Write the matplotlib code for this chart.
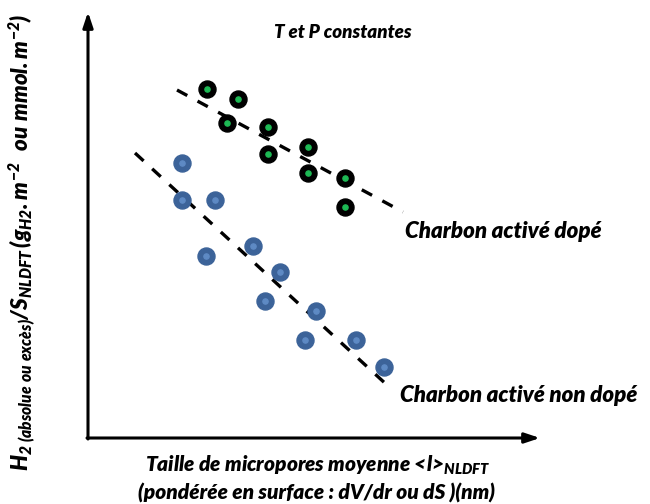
import matplotlib.pyplot as plt

plt.rcParams["font.family"] = ["Lato", "DejaVu Sans"]
plt.rcParams["mathtext.fontset"] = "custom"
plt.rcParams["mathtext.rm"] = "Lato:italic:heavy"
plt.rcParams["mathtext.it"] = "Lato:italic:heavy"
plt.rcParams["mathtext.bf"] = "Lato:italic:heavy"

# schematic coordinates (x to the right, y downward)
dope_x = [207, 238, 227, 268, 268, 308, 308, 345, 345]
dope_y = [89, 99, 123, 127, 154, 147, 173, 178, 207]

nondope_x = [182, 182, 215, 206, 253, 280, 265, 316, 305, 356, 384]
nondope_y = [163, 200, 200, 256, 246, 272, 301, 311, 340, 340, 367]

trend_dope = ([177, 403], [90, 212])
trend_nondope = ([135, 387], [153, 385])

fig = plt.figure(figsize=(6.5, 5.04), dpi=100)
ax = fig.add_axes([0, 0, 1, 1])
ax.set_xlim(0, 650)
ax.set_ylim(504, 0)
ax.axis("off")

# axes arrows
ax.annotate("", xy=(88, 12), xytext=(88, 439),
            arrowprops=dict(arrowstyle="-|>,head_length=0.9,head_width=0.3",
                            color="black", lw=2.2, shrinkA=0, shrinkB=0))
ax.annotate("", xy=(540, 438), xytext=(87, 438),
            arrowprops=dict(arrowstyle="-|>,head_length=0.9,head_width=0.3",
                            color="black", lw=2.2, shrinkA=0, shrinkB=0))

# dashed trends
ax.plot(*trend_dope, color="black", lw=2.4, ls=(0, (3.5, 3.5)))
ax.plot(*trend_nondope, color="black", lw=2.4, ls=(0, (3.5, 3.5)))

# doped carbon: black rings with green centre
ax.scatter(dope_x, dope_y, s=150, color="black", zorder=3)
ax.scatter(dope_x, dope_y, s=14, color="#1db954", zorder=4)

# undoped carbon: blue discs with lighter centre
ax.scatter(nondope_x, nondope_y, s=150, color="#3c6399", zorder=3)
ax.scatter(nondope_x, nondope_y, s=14, color="#5e8ac4", zorder=4)

bi = dict(fontweight="heavy", fontstyle="italic", color="black")
ax.text(343, 32, "T et P constantes", ha="center", va="center", fontsize=13.5, **bi)
ax.text(405, 231, "Charbon activé dopé", ha="left", va="center", fontsize=16, **bi)
ax.text(400, 396, "Charbon activé non dopé", ha="left", va="center", fontsize=16, **bi)

ax.text(318, 465, r"Taille de micropores moyenne <l>$_{NLDFT}$",
        ha="center", va="center", fontsize=15, **bi)
ax.text(317, 493, "(pondérée en surface : dV/dr ou dS )(nm)",
        ha="center", va="center", fontsize=15, **bi)

ylab = (r"$H_{2\ (absolue\ ou\ excès)}/S_{NLDFT}\,(g_{H2}.m^{-2}\ \ ou\ mmol.m^{-2})$")
ax.text(22, 242, ylab, ha="center", va="center", rotation=90, fontsize=16)

fig.savefig("out.png", dpi=100)
